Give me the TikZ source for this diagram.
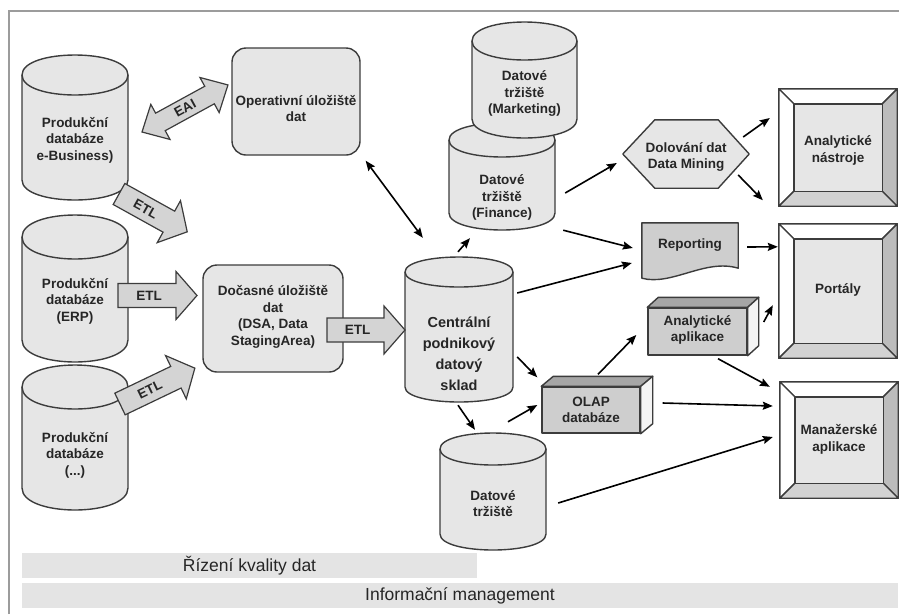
\documentclass[tikz,border=0pt]{standalone}
\usepackage{fontspec}
\setmainfont{Liberation Sans}
\usetikzlibrary{calc,arrows.meta}
\definecolor{shapefill}{HTML}{E6E6E6}
\definecolor{darkfill}{HTML}{CECECE}
\definecolor{topfill}{HTML}{A6A6A6}
\definecolor{sidefill}{HTML}{F4F4F4}
\definecolor{arrowfill}{HTML}{D4D4D4}
\definecolor{edge}{HTML}{3C3C3C}
\definecolor{barfill}{HTML}{E4E4E4}
\definecolor{framegray}{HTML}{9C9C9C}
\definecolor{bevelgray}{HTML}{BCBCBC}
\definecolor{bevellight}{HTML}{D2D2D2}
\definecolor{inkgray}{HTML}{262626}
\tikzset{
  outline/.style={draw=edge, line width=1.4pt, line join=round},
  lbl/.style={align=center, text=inkgray, inner sep=0pt, font=\bfseries\fontsize{13.5}{16.5}\selectfont},
  holder/.style={inner sep=0pt, minimum width=#1},
  arr/.style={-{Stealth[length=10pt,width=8pt,inset=1.5pt]}, line width=1.6pt},
  dblarr/.style={{Stealth[length=10pt,width=8pt,inset=1.5pt]}-{Stealth[length=10pt,width=8pt,inset=1.5pt]}, line width=1.6pt},
  blockarr/.style={fill=arrowfill, draw=edge, line width=1.2pt, line join=miter},
  bar/.style={fill=barfill, inner sep=0pt, minimum height=25pt, text=inkgray, font=\fontsize{17.5}{20}\selectfont}
}
\begin{document}
\begin{tikzpicture}[x=1pt,y=-1pt]
\useasboundingbox (0,0) rectangle (899,614);
\draw[framegray, line width=2pt] (9,614) -- (9,11) -- (899,11);

% databases
\foreach \nm/\cx/\cwid/\ytop/\ybot/\rad in {ebiz/75/106/55/200/20, erp/75/106/215/362/22, other/75/106/365/510/22, fin/502/106/123/230/17, mkt/524.5/105/22/138/19, central/459/108/257/402/15, dmart/493/106/433/550/16}{
  \pgfmathsetmacro\xl{\cx-\cwid/2}
  \pgfmathsetmacro\xr{\cx+\cwid/2}
  \pgfmathsetmacro\ya{\ytop+\rad}
  \pgfmathsetmacro\yb{\ybot-\rad}
  \pgfmathsetmacro\ka{\ya-4/3*\rad}
  \pgfmathsetmacro\kb{\yb+4/3*\rad}
  \pgfmathsetmacro\kc{\ya+4/3*\rad}
  \pgfmathsetmacro\yc{(\ytop+\ybot)/2}
  \pgfmathsetmacro\hh{\ybot-\ytop}
  \draw[outline, fill=shapefill] (\xl,\ya) -- (\xl,\yb) .. controls (\xl,\kb) and (\xr,\kb) .. (\xr,\yb) -- (\xr,\ya) .. controls (\xr,\ka) and (\xl,\ka) .. (\xl,\ya) -- cycle;
  \draw[outline] (\xl,\ya) .. controls (\xl,\kc) and (\xr,\kc) .. (\xr,\ya);
  \node[holder=\cwid, minimum height=\hh] (\nm) at (\cx,\yc) {};
}

% stores
\node[outline, fill=shapefill, rounded corners=14pt, minimum width=128, minimum height=107] (ods) at (296,101.5) {};
\node[outline, fill=shapefill, rounded corners=14pt, minimum width=140, minimum height=107] (dsa) at (273,318.5) {};

% data mining
\node[holder=126, minimum height=68] (mining) at (686,154) {};
\draw[outline, fill=shapefill] (mining.west) -- ($(mining.north west)+(32,0)$) -- ($(mining.north east)+(-31,0)$) -- (mining.east) -- ($(mining.south east)+(-31,0)$) -- ($(mining.south west)+(32,0)$) -- cycle;

% reporting
\node[holder=96, minimum height=45] (report) at (690,245.5) {};
\draw[outline, fill=darkfill] (report.north west) -- (report.north east) -- (report.south east) .. controls ($(report.south east)+(-33,-10)$) and ($(report.south west)+(30,18)$) .. ($(report.south west)+(0,10)$) -- cycle;

% 3d boxes
\node[outline, fill=darkfill, inner sep=0pt, minimum width=99, minimum height=47] (apps) at (697.5,331.5) {};
\draw[outline, fill=topfill] (apps.north west) -- ++(11,-10) -- ($(apps.north east)+(11,-10)$) -- (apps.north east) -- cycle;
\draw[outline, fill=sidefill] (apps.north east) -- ++(11,-10) -- ($(apps.south east)+(11,-10)$) -- (apps.south east) -- cycle;
\node[outline, fill=darkfill, inner sep=0pt, minimum width=98, minimum height=46] (olap) at (591,410) {};
\draw[outline, fill=topfill] (olap.north west) -- ++(12,-10) -- ($(olap.north east)+(12,-10)$) -- (olap.north east) -- cycle;
\draw[outline, fill=sidefill] (olap.north east) -- ++(12,-10) -- ($(olap.south east)+(12,-10)$) -- (olap.south east) -- cycle;

% bevelled targets
\node[holder=118, minimum height=117] (tools) at (838,147.5) {};
\node[holder=118, minimum height=134] (portal) at (838,291) {};
\node[holder=118, minimum height=116] (mgr) at (839,440) {};
\foreach \b in {tools,portal,mgr}{
  \coordinate (\b-nw) at ($(\b.north west)+(15,15)$);
  \coordinate (\b-ne) at ($(\b.north east)+(-15,15)$);
  \coordinate (\b-se) at ($(\b.south east)+(-15,-15)$);
  \coordinate (\b-sw) at ($(\b.south west)+(15,-15)$);
  \draw[outline, fill=white] (\b.north west) -- (\b.north east) -- (\b-ne) -- (\b-nw) -- cycle;
  \draw[outline, fill=white] (\b.north west) -- (\b-nw) -- (\b-sw) -- (\b.south west) -- cycle;
  \draw[outline, fill=bevelgray] (\b.north east) -- (\b.south east) -- (\b-se) -- (\b-ne) -- cycle;
  \draw[outline, fill=bevellight] (\b.south west) -- (\b-sw) -- (\b-se) -- (\b.south east) -- cycle;
  \draw[outline, fill=shapefill] (\b-nw) rectangle (\b-se);
}

% block arrows
\foreach \nm/\sx/\sy/\ang/\len in {etla/119/194/-29/78, etlb/118/295.5/0/79, etlc/120/404/25.6/83, etld/327/330/0/78}{
  \begin{scope}[shift={(\sx,\sy)}, rotate=\ang]
    \draw[blockarr] (0,-12) -- (\len-21,-12) -- (\len-21,-24) -- (\len,0) -- (\len-21,24) -- (\len-21,12) -- (0,12) -- cycle;
    \node[lbl, rotate=\ang] (\nm) at ({(\len-21)/2+2},0) {ETL};
  \end{scope}
}
\begin{scope}[shift={(142,132)}, rotate=28.7]
  \draw[blockarr] (0,0) -- (21,-20) -- (21,-10) -- (77,-10) -- (77,-20) -- (98,0) -- (77,20) -- (77,10) -- (21,10) -- (21,20) -- cycle;
  \node[lbl, rotate=28.7] (eai) at (49,0) {EAI};
\end{scope}

% labels
\node[lbl] (ebiz-t) at (75,140) {Produkční\\databáze\\e-Business)};
\node[lbl] (erp-t) at (75,301) {Produkční\\databáze\\(ERP)};
\node[lbl] (other-t) at (75,455) {Produkční\\databáze\\(...)};
\node[lbl] (ods-t) at (296,108.5) {Operativní úložiště\\dat};
\node[lbl] (dsa-t) at (273,317) {Dočasné úložiště\\dat\\(DSA, Data\\StagingArea)};
\node[lbl, font=\bfseries\fontsize{14.5}{21}\selectfont] (central-t) at (459,353.5) {Centrální\\podnikový\\datový\\sklad};
\node[lbl] (mkt-t) at (524.5,93.5) {Datové\\tržiště\\(Marketing)};
\node[lbl] (fin-t) at (502,197.5) {Datové\\tržiště\\(Finance)};
\node[lbl] (dmart-t) at (493,503.5) {Datové\\tržiště};
\node[lbl] (mining-t) at (686,157) {Dolování dat\\Data Mining};
\node[lbl] (report-t) at (690,245) {Reporting};
\node[lbl] (apps-t) at (697.5,330) {Analytické\\aplikace};
\node[lbl] (olap-t) at (591,410) {OLAP\\databáze};
\node[lbl] (tools-t) at (838,150.5) {Analytické\\nástroje};
\node[lbl] (portal-t) at (838,290) {Portály};
\node[lbl] (mgr-t) at (839,439.5) {Manažerské\\aplikace};

% flows
\draw[dblarr] ($(ods.south east)+(5,5)$) -- ($(central.north west)+(18,-19)$);
\draw[arr] ($(central.north)+(-1,-5)$) -- ($(fin.south)+(-32,8)$);
\draw[arr] ($(fin.east)+(10,16.5)$) -- ($(mining.west)+(-6,9)$);
\draw[arr] ($(fin.south east)+(8,0)$) -- ($(report.west)+(-9,2.5)$);
\draw[arr] ($(central.east)+(4,-36.5)$) -- ($(report.west)+(-10,17.5)$);
\draw[arr] ($(mining.east)+(-6,-17)$) -- ($(tools.west)+(-9,-29.5)$);
\draw[arr] ($(mining.east)+(-11,21)$) -- ($(tools.south west)+(-16,-6)$);
\draw[arr] ($(report.east)+(9,1.5)$) -- ($(portal.north west)+(-1,23)$);
\draw[arr] ($(central.east)+(4,27.5)$) -- ($(olap.north west)+(-4,-9)$);
\draw[arr] ($(central.south)+(-1,3)$) -- ($(dmart.north)+(-18,-3)$);
\draw[arr] ($(dmart.north)+(15,-11)$) -- ($(olap.west)+(-4,-5)$);
\draw[arr] ($(olap.north)+(7,-12)$) -- ($(apps.west)+(-11,3.5)$);
\draw[arr] ($(apps.east)+(16,-9.5)$) -- ($(portal.south west)+(-6,-53)$);
\draw[arr] ($(apps.south)+(20.5,3)$) -- ($(mgr.north west)+(-10,5)$);
\draw[arr] ($(olap.east)+(22,-7)$) -- ($(mgr.west)+(-7,-34)$);
\draw[arr] ($(dmart.east)+(12,11.5)$) -- ($(mgr.west)+(-7,-3)$);

% bars
\node[bar, minimum width=455] (quality) at (249.5,565.5) {Řízení kvality dat};
\node[bar, minimum width=876] (infomgmt) at (460,595.5) {Informační management};
\end{tikzpicture}
\end{document}
